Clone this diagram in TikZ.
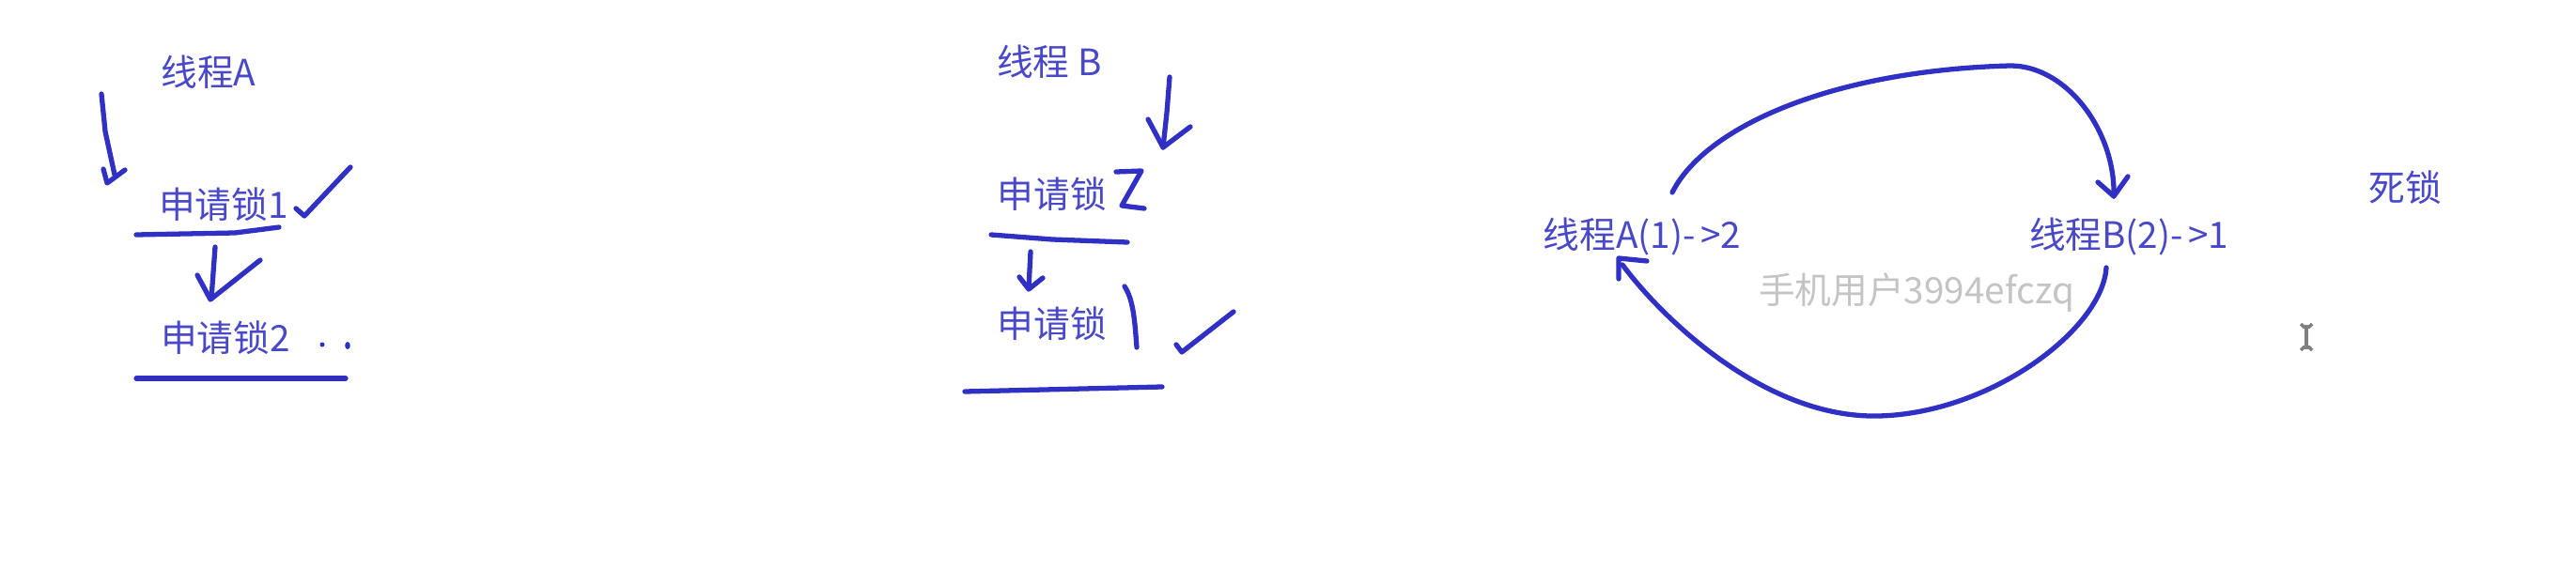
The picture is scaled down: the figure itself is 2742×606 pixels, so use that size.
\documentclass[tikz,border=0pt]{standalone}
\usepackage{fontspec}
\setmainfont{Noto Sans CJK SC}
\definecolor{txtblue}{RGB}{72,72,200}
\definecolor{penblue}{RGB}{48,48,196}
\definecolor{wmgray}{RGB}{196,196,196}
\begin{document}
\begin{tikzpicture}[x=0.01cm,y=-0.01cm,
  lbl/.style={inner sep=0pt,text=txtblue,font=\fontsize{11pt}{13pt}\selectfont},
  wm/.style={inner sep=0pt,text=wmgray,font=\fontsize{11pt}{13pt}\selectfont},
  pen/.style={draw=penblue,line width=1.5pt,line cap=round,line join=round}]
\useasboundingbox[fill=white] (0,0) rectangle (2742,606);
% texts
\node[lbl] (tA) at (222,77) {线程A};
\node[lbl] (A1) at (238,218) {申请锁1};
\node[lbl] (A2) at (240,360) {申请锁2};
\node[lbl] (tB) at (1117,66) {线程 B};
\node[lbl] (B1) at (1120,207) {申请锁};
\node[lbl] (B2) at (1120,345) {申请锁};
\node[lbl] (nA) at (1748,252) {线程A(1)-\kern1.5pt>2};
\node[lbl] (nB) at (2266,252) {线程B(2)-\kern1.5pt>1};
\node[wm] (wmk) at (2040,312) {手机用户3994efczq};
\node[lbl] (dl) at (2560,200) {死锁};
% thread A strokes
\draw[pen] (108,100) -- (112,140) -- (122,186);
\draw[pen] (110,180) -- (114,195) -- (133,181);
\draw[pen] (315,222) -- (324,230) -- (373,178);
\draw[pen] (145,250) -- (250,248) -- (297,242);
\draw[pen] (229,263) -- (225,318);
\draw[pen] (210,293) -- (224,319) -- (277,277);
\fill[penblue] (343,367) circle (2.5);
\fill[penblue] (370,368) ellipse (2.8 and 4);
\draw[pen] (145,403) -- (368,403);
% thread B strokes
\draw[pen] (1245,82) -- (1242,120) -- (1238,157);
\draw[pen] (1222,127) -- (1238,157) -- (1267,135);
\draw[pen] (1188,183) -- (1215,182) -- (1194,219) -- (1218,222);
\draw[pen] (1055,250) -- (1120,255) -- (1200,258);
\draw[pen] (1097,268) -- (1095,307);
\draw[pen] (1085,295) -- (1095,308) -- (1110,296);
\draw[pen] (1197,305) .. controls (1207,320) and (1208,345) .. (1210,370);
\draw[pen] (1252,367) -- (1258,375) -- (1313,332);
\draw[pen] (1027,417) -- (1237,412);
% deadlock cycle
\coordinate (c1) at (1780,205);
\coordinate (c2) at (2250,209);
\coordinate (c3) at (2242,285);
\coordinate (c4) at (1727,282);
\draw[pen] (c1) .. controls (1815,135) and (1950,75) .. (2140,70)
  .. controls (2200,70) and (2252,140) .. (c2);
\draw[pen] (2233,194) -- (c2) -- (2265,188);
\draw[pen] (c3) .. controls (2238,350) and (2120,440) .. (2000,443)
  .. controls (1880,446) and (1770,340) .. (c4);
\draw[pen] (1723,297) -- (1723,275) -- (1753,278);
% cursor
\draw[gray,line width=1pt] (2455,348) -- (2455,370);
\draw[gray,line width=1pt] (2449,345) -- (2452,348) -- (2458,348) -- (2461,345);
\draw[gray,line width=1pt] (2449,373) -- (2452,370) -- (2458,370) -- (2461,373);
\end{tikzpicture}
\end{document}
